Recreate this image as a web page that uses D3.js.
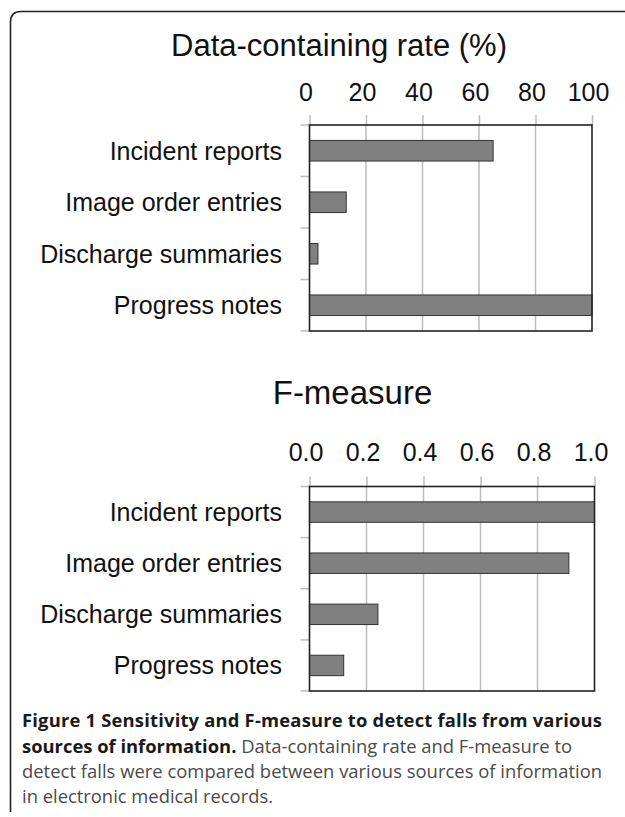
<!DOCTYPE html>
<meta charset="UTF-8">
<style>
  body { margin: 0; background: #fff; }
  svg text { font-family: "Liberation Sans", Arial, sans-serif; fill: #111; }
  .grid line { stroke: #bdbdbd; stroke-width: 1.5px; }
  .stub line { stroke: #bdbdbd; stroke-width: 1.5px; }
  .frame { fill: none; stroke: #222; stroke-width: 1.6px; }
  .bar { fill: #808080; stroke: #333; stroke-width: 1px; }
  svg text.caption { font-family: "Open Sans", sans-serif; }
</style>
<body>
<div class="chart"></div>
<script src="https://d3js.org/d3.v7.min.js"></script>
<script>
// data
var categories = ["Incident reports", "Image order entries", "Discharge summaries", "Progress notes"];
var rateValues = [65, 13, 3, 100];
var rateTicks = [0, 20, 40, 60, 80, 100];
var fValues = [1.0, 0.91, 0.24, 0.12];
var fTicks = [0, 0.2, 0.4, 0.6, 0.8, 1.0];

var width = 625, height = 817;
var svg = d3.select(".chart").append("svg")
  .attr("width", width)
  .attr("height", height);

// outer frame, rounded top-left corner, open at bottom and right
svg.append("path")
  .attr("class", "frame")
  .attr("d", "M10.5,812 L10.5,22 Q10.5,11.5 21,11.5 L625,11.5");

function panel(opts) {
  var g = svg.append("g").attr("transform", "translate(" + opts.left + "," + opts.top + ")");
  var w = opts.w, h = opts.h;

  var x = d3.scaleLinear().domain([0, opts.max]).range([0, w]);
  var yb = d3.scaleBand().domain(categories).range([0, h]).padding(0);
  var y = d3.scaleBand().domain(categories).range([0, h]).paddingInner(0.6).paddingOuter(0.3);

  // title
  svg.append("text")
    .attr("x", opts.titleX)
    .attr("y", opts.titleY)
    .attr("text-anchor", "middle")
    .style("font-size", opts.titleSize + "px")
    .text(opts.title);

  // vertical grid lines
  g.append("g").attr("class", "grid")
    .selectAll("line").data(opts.ticks.slice(1, -1)).enter().append("line")
    .attr("x1", function (d) { return x(d); })
    .attr("x2", function (d) { return x(d); })
    .attr("y1", 0).attr("y2", h);

  // top axis (stubs + labels)
  var ax = d3.axisTop(x).tickValues(opts.ticks).tickSize(10).tickPadding(opts.pad)
    .tickFormat(opts.fmt);
  var axg = g.append("g").attr("class", "stub").call(ax);
  axg.select(".domain").remove();
  axg.selectAll("text")
    .attr("dx", "-4")
    .style("font-size", "25px")
    .attr("fill", "#111");

  // left ticks at band boundaries
  var bounds = categories.map(function (c) { return yb(c); }).concat([h]);
  g.append("g").attr("class", "stub")
    .selectAll("line").data(bounds).enter().append("line")
    .attr("x1", -9).attr("x2", 0)
    .attr("y1", function (d) { return d; })
    .attr("y2", function (d) { return d; });

  // category labels
  g.selectAll(".cat").data(categories).enter().append("text")
    .attr("class", "cat")
    .attr("x", 282 - opts.left)
    .attr("y", function (d) { return yb(d) + yb.bandwidth() / 2 + 9; })
    .attr("text-anchor", "end")
    .style("font-size", "25px")
    .text(function (d) { return d; });

  // bars
  g.selectAll(".bar").data(opts.values).enter().append("rect")
    .attr("class", "bar")
    .attr("x", 0)
    .attr("y", function (d, i) { return y(categories[i]); })
    .attr("width", function (d) { return x(d); })
    .attr("height", y.bandwidth());

  // plot border
  g.append("rect")
    .attr("x", 0).attr("y", 0).attr("width", w).attr("height", h)
    .attr("fill", "none").attr("stroke", "#222").attr("stroke-width", 1.6);
}

panel({
  left: 309.5, top: 125, w: 282.5, h: 206, max: 100,
  values: rateValues, ticks: rateTicks, fmt: d3.format("d"),
  title: "Data-containing rate (%)", titleX: 339, titleY: 56, titleSize: 31, pad: 14
});

panel({
  left: 309.5, top: 486.5, w: 285, h: 204.5, max: 1,
  values: fValues, ticks: fTicks, fmt: d3.format(".1f"),
  title: "F-measure", titleX: 352.5, titleY: 404, titleSize: 33, pad: 16
});

// caption
var capLines = [
  [{ t: "Figure 1 Sensitivity and F-measure to detect falls from various", b: true }],
  [{ t: "sources of information.", b: true }, { t: " Data-containing rate and F-measure to", b: false }],
  [{ t: "detect falls were compared between various sources of information", b: false }],
  [{ t: "in electronic medical records.", b: false }]
];
var capY = [727, 753, 778, 803];
var capWidth = [580, 550, 580, 278];

var capTexts = capLines.map(function (line, i) {
  var t = svg.append("text").attr("class", "caption")
    .attr("x", 22).attr("y", capY[i])
    .style("font-size", "20px");
  line.forEach(function (seg) {
    t.append("tspan")
      .style("font-weight", seg.b ? "700" : "400")
      .attr("fill", seg.b ? "#1a1a1a" : "#4a4a4a")
      .text(seg.t);
  });
  return t;
});
// pick one font size so that no line is wider than its measured width
var capSize = d3.min(capTexts.slice(0, 3), function (t, i) {
  return 20 * capWidth[i] / t.node().getComputedTextLength();
});
capTexts.forEach(function (t, i) {
  t.style("font-size", capSize + "px");
  if (i < 3) t.attr("textLength", capWidth[i]).attr("lengthAdjust", "spacing");
});
</script>
</body>
